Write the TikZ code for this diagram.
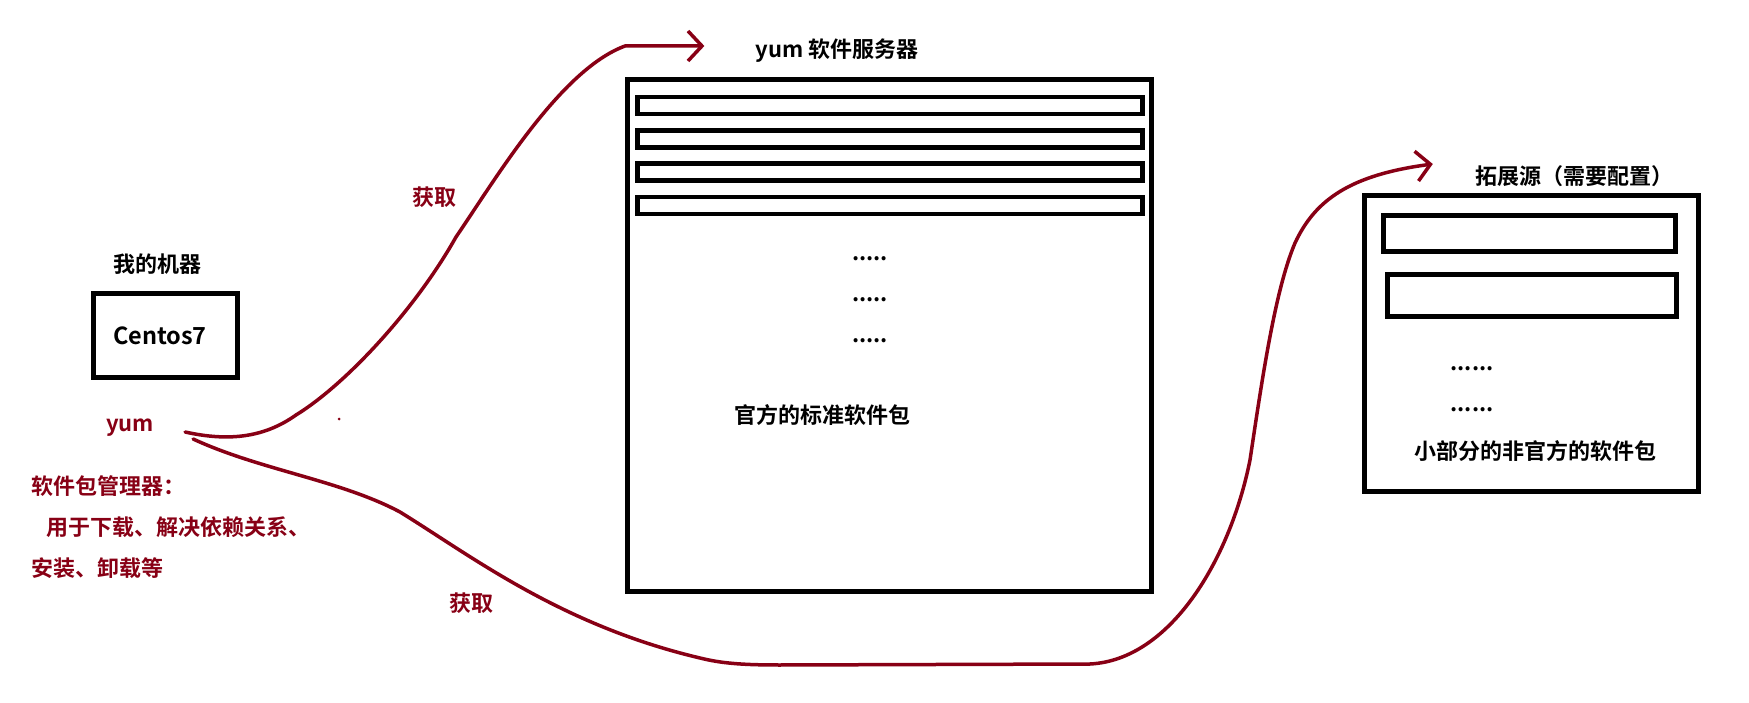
\documentclass[tikz,border=0pt]{standalone}
\usepackage{fontspec}
\setmainfont{Noto Sans CJK SC}[BoldFont={Noto Sans CJK SC Bold}]
\usetikzlibrary{arrows.meta}
\definecolor{darkred}{HTML}{880015}

\begin{document}
\begin{tikzpicture}[x=1pt,y=-1pt,
  >={Straight Barb[length=14pt,width=30pt]},
  box/.style={draw,line width=5pt,inner sep=0pt},
  bar/.style={draw,line width=4.5pt,inner sep=0pt},
  caption/.style={font=\fontsize{22}{26}\selectfont\bfseries,inner sep=1pt},
  remark/.style={caption,text=darkred},
  fetch/.style={draw=darkred,line width=3.5pt,->,line cap=round,line join=round}]
\fill[white] (0,0) rectangle (1749,703);
\useasboundingbox (0,0) rectangle (1749,703);
\node[caption] (hosttitle) at (157,264) {我的机器};
\node[box,minimum width=144pt,minimum height=84pt,inner xsep=19.5pt,text width=105pt,align=left,font=\fontsize{23.5}{26}\selectfont\bfseries] (host) at (165.5,335.5) {Centos7};
\node[remark] (yum) at (130,428) {yum};
\node[remark,align=left,anchor=west,font=\fontsize{22}{41}\selectfont\bfseries] (yumnote) at (30,527) {软件包管理器：\\\hspace*{15pt}用于下载、解决依赖关系、\\安装、卸载等};
\node[caption] (srvtitle) at (837,51) {yum 软件服务器};
\node[box,minimum width=524pt,minimum height=512pt] (server) at (889.5,335.5) {};
\foreach \i in {0,...,3}
  \node[bar,minimum width=505pt,minimum height=17pt] (srvbar\i) at (890,{105.75+33.2*\i}) {};
\foreach \y/\n in {259/1,300/2,341/3}
  \node[caption] (srvdots\n) at (870,\y) {.....};
\node[caption] (official) at (822,415) {官方的标准软件包};
\node[caption] (exttitle) at (1574,176) {拓展源（需要配置）};
\node[box,minimum width=334pt,minimum height=296pt] (ext) at (1531.5,343.5) {};
\node[bar,minimum width=292pt,minimum height=36pt] (extbar1) at (1529.5,233.5) {};
\node[bar,minimum width=289pt,minimum height=42pt] (extbar2) at (1532,295.5) {};
\node[caption] (extdots1) at (1472,369) {......};
\node[caption] (extdots2) at (1472,410) {......};
\node[caption] (unofficial) at (1535,451) {小部分的非官方的软件包};
\node[remark] (fetch1) at (434,197) {获取};
\node[remark] (fetch2) at (471,603) {获取};
\draw[fetch] ([xshift=30pt,yshift=-4pt]yum.east) .. controls (230,442) and (265,437) .. (296,415) .. controls (345,385) and (415,310) .. (456,237) .. controls (495,180) and (560,70) .. (625,46) -- ([xshift=-50pt,yshift=5pt]srvtitle.west);
\draw[fetch] ([xshift=38pt,yshift=-11pt]yum.east) .. controls (260,470) and (340,480) .. (400,512) .. controls (470,555) and (560,625) .. (700,658) .. controls (720,663) and (740,665) .. (780,665) -- (1090,664) .. controls (1170,660) and (1230,560) .. (1250,460) .. controls (1262,380) and (1275,290) .. (1295,243) .. controls (1315,200) and (1350,175) .. ([xshift=-41pt,yshift=12pt]exttitle.west);
\fill[darkred] (339,419) circle (1.5pt);
\end{tikzpicture}
\end{document}
